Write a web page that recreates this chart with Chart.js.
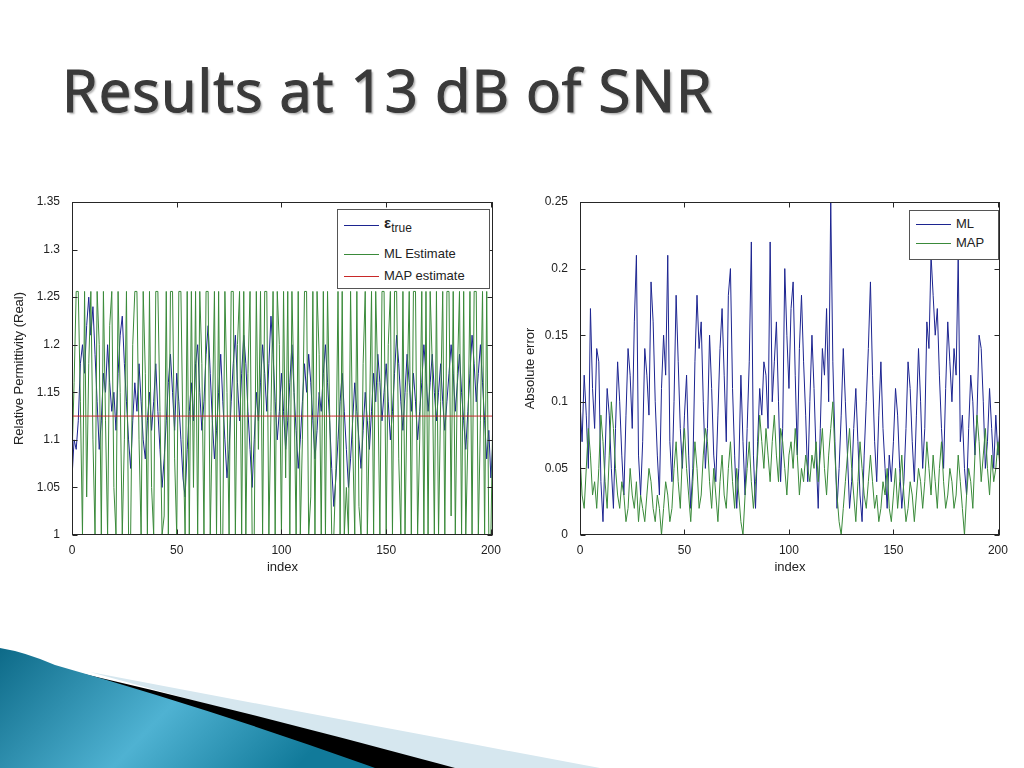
<!DOCTYPE html>
<html>
<head>
<meta charset="utf-8">
<script src="https://cdn.jsdelivr.net/npm/chart.js@4"></script>
<style>
  html, body { margin: 0; padding: 0; background: #fff; }
  body { width: 1024px; height: 768px; position: relative; overflow: hidden; font-family: "Liberation Sans", Arial, sans-serif; }
  #title { position: absolute; left: 62px; top: 50px; font-family: "Open Sans", sans-serif; font-weight: 400; font-size: 58px; color: #3a3a3a;
           -webkit-text-stroke: 1.2px #3a3a3a; text-shadow: 2px 2px 2px #b0b0b0; white-space: nowrap; letter-spacing: 1px; }
  canvas { position: absolute; }
  #leftChart { left: 0; top: 190px; }
  #rightChart { left: 515px; top: 190px; }
  .legend { position: absolute; background: #fff; border: 1px solid #555; font-size: 13px; color: #222; }
  .row { position: absolute; left: 0; right: 0; height: 18px; }
  .row .sample { position: absolute; left: 6px; width: 35px; top: 9px; border-top: 1px solid; }
  .row .txt { position: absolute; left: 46px; top: 1px; white-space: nowrap; }
  #deco { position: absolute; left: 0; top: 630px; }
</style>
</head>
<body>
<div id="title">Results at 13 dB of SNR</div>

<canvas id="leftChart" width="505" height="385"></canvas>
<canvas id="rightChart" width="509" height="385"></canvas>

<div class="legend" style="left:337px; top:209px; width:151px; height:78px;">
  <div class="row" style="top:6px;"><span class="sample" style="border-color:#1c2490"></span>
    <span class="txt" style="top:-2px;"><b style="font-size:15px;">&epsilon;</b><sub style="font-size:12px;">true</sub></span></div>
  <div class="row" style="top:35px;"><span class="sample" style="border-color:#3a8a3a"></span><span class="txt">ML Estimate</span></div>
  <div class="row" style="top:57px;"><span class="sample" style="border-color:#c82828"></span><span class="txt">MAP estimate</span></div>
</div>

<div class="legend" style="left:909px; top:210px; width:88px; height:48px;">
  <div class="row" style="top:4px;"><span class="sample" style="border-color:#1c2490"></span><span class="txt">ML</span></div>
  <div class="row" style="top:23px;"><span class="sample" style="border-color:#3a8a3a"></span><span class="txt">MAP</span></div>
</div>

<svg id="deco" width="1024" height="138" viewBox="0 630 1024 138">
  <defs>
    <linearGradient id="teal" x1="0" y1="0" x2="1" y2="0.3">
      <stop offset="0" stop-color="#0d6a88"/>
      <stop offset="0.55" stop-color="#4fb2d2"/>
      <stop offset="1" stop-color="#117a9a"/>
    </linearGradient>
  </defs>
  <path d="M90,672 Q300,712 600,768 L440,768 Z" fill="#d6e7ef"/>
  <path d="M50,666 Q250,712 455,768 L370,768 Z" fill="#000"/>
  <path d="M0,648 Q25,652 55,665 Q220,712 375,768 L0,768 Z" fill="url(#teal)"/>
</svg>

<script>
// left panel: relative permittivity vs index
const epsTrue = [
  1.06,1.10,1.09,1.12,1.18,1.20,1.17,1.22,1.25,1.21,
  1.24,1.19,1.14,1.09,1.12,1.17,1.15,1.20,1.16,1.13,
  1.15,1.11,1.17,1.21,1.23,1.18,1.14,1.10,1.07,1.12,
  1.16,1.13,1.18,1.14,1.10,1.08,1.12,1.15,1.11,1.14,
  1.18,1.13,1.09,1.05,1.08,1.12,1.16,1.19,1.15,1.11,
  1.17,1.14,1.10,1.06,1.04,1.09,1.13,1.16,1.12,1.18,
  1.20,1.15,1.11,1.14,1.19,1.22,1.17,1.12,1.08,1.11,
  1.15,1.19,1.14,1.10,1.06,1.09,1.14,1.18,1.21,1.16,
  1.12,1.17,1.21,1.18,1.13,1.09,1.05,1.10,1.15,1.12,
  1.16,1.20,1.17,1.13,1.18,1.23,1.19,1.14,1.10,1.13,
  1.17,1.13,1.09,1.12,1.16,1.20,1.15,1.11,1.07,1.10,
  1.14,1.18,1.15,1.19,1.16,1.12,1.08,1.11,1.15,1.13,
  1.17,1.20,1.16,1.12,1.07,1.03,1.06,1.10,1.14,1.17,
  1.13,1.09,1.05,1.08,1.12,1.16,1.13,1.10,1.07,1.11,
  1.15,1.12,1.09,1.13,1.17,1.14,1.19,1.16,1.12,1.15,
  1.18,1.14,1.10,1.13,1.17,1.21,1.18,1.14,1.11,1.15,
  1.19,1.16,1.13,1.17,1.14,1.10,1.13,1.16,1.20,1.17,
  1.13,1.16,1.19,1.15,1.12,1.15,1.18,1.14,1.11,1.14,
  1.17,1.20,1.17,1.13,1.16,1.19,1.15,1.12,1.09,1.13,
  1.17,1.21,1.18,1.14,1.17,1.20,1.16,1.12,1.08,1.11,
  1.06,1.10
];

const mlEstimate = [
  1.08,1.16,1.256,1.256,1.14,1.0,1.256,1.04,1.18,1.256,
  1.1,1.0,1.256,1.2,1.0,1.256,1.12,1.0,1.22,1.256,
  1.05,1.0,1.256,1.15,1.0,1.1,1.256,1.0,1.0,1.2,
  1.256,1.256,1.1,1.0,1.256,1.17,1.0,1.256,1.05,1.0,
  1.256,1.256,1.13,1.0,1.02,1.256,1.0,1.256,1.256,1.08,
  1.0,1.256,1.256,1.1,1.0,1.256,1.0,1.256,1.05,1.256,
  1.0,1.256,1.18,1.0,1.256,1.256,1.0,1.12,1.256,1.0,
  1.256,1.0,1.0,1.256,1.15,1.0,1.256,1.256,1.0,1.2,
  1.256,1.0,1.256,1.0,1.17,1.256,1.0,1.0,1.256,1.09,
  1.256,1.0,1.256,1.256,1.0,1.13,1.256,1.0,1.256,1.2,
  1.0,1.256,1.06,1.256,1.0,1.256,1.15,1.0,1.256,1.0,
  1.1,1.256,1.256,1.0,1.04,1.256,1.0,1.256,1.19,1.0,
  1.256,1.0,1.256,1.13,1.0,1.0,1.07,1.256,1.0,1.256,
  1.0,1.05,1.0,1.256,1.1,1.0,1.256,1.03,1.0,1.18,
  1.256,1.0,1.12,1.256,1.0,1.256,1.16,1.0,1.256,1.256,
  1.0,1.2,1.256,1.0,1.256,1.256,1.08,1.0,1.256,1.0,
  1.15,1.256,1.0,1.256,1.256,1.0,1.1,1.256,1.0,1.256,
  1.0,1.256,1.18,1.0,1.256,1.0,1.14,1.256,1.0,1.256,
  1.256,1.02,1.256,1.0,1.17,1.256,1.0,1.256,1.0,1.1,
  1.256,1.0,1.256,1.256,1.0,1.12,1.256,1.0,1.256,1.0,
  1.0,1.14
];

const mapEstimateLevel = 1.125;

// right panel: absolute error vs index
const mlError = [
  0.10,0.07,0.12,0.09,0.05,0.17,0.11,0.08,0.14,0.13,
  0.04,0.01,0.06,0.11,0.09,0.05,0.02,0.08,0.13,0.10,
  0.06,0.03,0.09,0.14,0.12,0.08,0.16,0.21,0.06,0.03,
  0.07,0.14,0.12,0.09,0.19,0.16,0.10,0.06,0.03,0.11,
  0.15,0.12,0.21,0.07,0.04,0.10,0.18,0.13,0.08,0.05,
  0.09,0.12,0.06,0.02,0.05,0.13,0.18,0.14,0.16,0.10,
  0.05,0.08,0.15,0.11,0.06,0.04,0.09,0.14,0.17,0.12,
  0.07,0.18,0.20,0.11,0.06,0.02,0.05,0.12,0.07,0.03,
  0.08,0.13,0.22,0.06,0.02,0.07,0.11,0.09,0.13,0.12,
  0.08,0.22,0.10,0.13,0.16,0.10,0.04,0.08,0.20,0.15,
  0.11,0.17,0.19,0.12,0.06,0.14,0.18,0.13,0.09,0.04,
  0.10,0.15,0.11,0.06,0.02,0.08,0.14,0.12,0.17,0.10,
  0.25,0.13,0.07,0.02,0.05,0.09,0.14,0.10,0.06,0.02,
  0.04,0.08,0.11,0.07,0.03,0.01,0.06,0.10,0.14,0.19,
  0.12,0.07,0.04,0.09,0.13,0.08,0.05,0.02,0.06,0.04,
  0.07,0.11,0.09,0.05,0.02,0.04,0.08,0.13,0.11,0.07,
  0.04,0.09,0.14,0.10,0.05,0.08,0.16,0.14,0.21,0.18,
  0.15,0.17,0.12,0.08,0.05,0.11,0.16,0.13,0.10,0.14,
  0.12,0.21,0.07,0.09,0.05,0.03,0.08,0.12,0.10,0.06,
  0.09,0.15,0.14,0.10,0.05,0.07,0.11,0.08,0.05,0.09,
  0.06,0.08
];

const mapError = [
  0.06,0.03,0.02,0.05,0.08,0.06,0.03,0.04,0.02,0.05,
  0.09,0.07,0.04,0.02,0.06,0.10,0.08,0.05,0.03,0.02,
  0.04,0.03,0.01,0.02,0.05,0.03,0.02,0.04,0.01,0.03,
  0.02,0.01,0.03,0.05,0.04,0.02,0.01,0.03,0.02,0.00,
  0.02,0.04,0.03,0.01,0.02,0.05,0.07,0.04,0.02,0.06,
  0.08,0.05,0.03,0.01,0.04,0.07,0.05,0.02,0.03,0.06,
  0.08,0.07,0.04,0.02,0.05,0.03,0.01,0.04,0.06,0.03,
  0.02,0.05,0.07,0.04,0.02,0.05,0.03,0.01,0.00,0.03,
  0.05,0.07,0.04,0.02,0.04,0.06,0.09,0.07,0.05,0.08,
  0.06,0.04,0.07,0.09,0.06,0.04,0.08,0.07,0.05,0.03,
  0.06,0.07,0.05,0.08,0.06,0.03,0.05,0.04,0.06,0.05,
  0.04,0.06,0.05,0.07,0.04,0.06,0.08,0.05,0.03,0.06,
  0.08,0.10,0.06,0.03,0.01,0.00,0.02,0.04,0.06,0.08,
  0.05,0.03,0.01,0.04,0.07,0.05,0.03,0.02,0.04,0.06,
  0.04,0.02,0.03,0.01,0.02,0.04,0.03,0.05,0.02,0.01,
  0.03,0.05,0.02,0.04,0.06,0.03,0.01,0.02,0.04,0.03,
  0.01,0.03,0.05,0.04,0.02,0.04,0.07,0.05,0.03,0.06,
  0.04,0.02,0.05,0.07,0.04,0.02,0.03,0.05,0.04,0.02,
  0.03,0.06,0.04,0.02,0.00,0.03,0.05,0.04,0.02,0.06,
  0.09,0.07,0.04,0.06,0.08,0.05,0.03,0.06,0.04,0.05,
  0.07,0.05
];

const xTicks = [0, 50, 100, 150, 200];
const yTicksLeft = [1, 1.05, 1.1, 1.15, 1.2, 1.25, 1.3, 1.35];
const yTicksRight = [0, 0.05, 0.1, 0.15, 0.2, 0.25];

const BLUE = "#1c2490";
const GREEN = "#3a8a3a";
const RED = "#c82828";
const tickFont = { family: "'Liberation Sans', Arial, sans-serif", size: 12 };

const toPoints = arr => arr.map((v, i) => ({ x: i, y: v }));

// matlab style box with ticks pointing inwards on all four sides
const matlabBox = {
    id: "matlabBox",
    afterDatasetsDraw(chart) {
        const { ctx, chartArea: a, scales: { x, y } } = chart;
        const L = Math.round(a.left) + 0.5, R = Math.round(a.right) - 0.5;
        const T = Math.round(a.top) + 0.5, B = Math.round(a.bottom) - 0.5;
        ctx.save();
        ctx.strokeStyle = "#262626";
        ctx.lineWidth = 1;
        ctx.beginPath();
        x.ticks.forEach(t => {
            const px = Math.round(x.getPixelForValue(t.value)) + 0.5;
            ctx.moveTo(px, B); ctx.lineTo(px, B - 5);
            ctx.moveTo(px, T); ctx.lineTo(px, T + 5);
        });
        y.ticks.forEach(t => {
            const py = Math.round(y.getPixelForValue(t.value)) + 0.5;
            ctx.moveTo(L, py); ctx.lineTo(L + 5, py);
            ctx.moveTo(R, py); ctx.lineTo(R - 5, py);
        });
        ctx.stroke();
        ctx.strokeRect(L, T, R - L, B - T);
        ctx.restore();
    }
};

function makeScales(yMin, yMax, yTickList, yTitle, yWidth) {
    return {
        x: {
            type: "linear", min: 0, max: 201,
            afterBuildTicks: s => { s.ticks = xTicks.map(v => ({ value: v })); },
            afterFit: s => { s.height = 40; },
            grid: { display: false }, border: { display: false },
            ticks: { font: tickFont, color: "#222", padding: 0, maxRotation: 0, callback: v => String(v) },
            title: { display: true, text: "index", font: { family: tickFont.family, size: 13 }, color: "#222", padding: 0 }
        },
        y: {
            min: yMin, max: yMax,
            afterBuildTicks: s => { s.ticks = yTickList.map(v => ({ value: v })); },
            afterFit: s => { s.width = yWidth; },
            grid: { display: false }, border: { display: false },
            ticks: { font: tickFont, color: "#222", padding: 4, callback: v => String(v) },
            title: { display: true, text: yTitle, font: { family: tickFont.family, size: 13 }, color: "#222", padding: 0 }
        }
    };
}

const baseLine = { borderWidth: 1, pointRadius: 0, tension: 0, fill: false };

new Chart(document.getElementById("leftChart"), {
    type: "line",
    data: {
        datasets: [
            { ...baseLine, label: "true", data: toPoints(epsTrue), borderColor: BLUE, order: 2 },
            { ...baseLine, label: "ML Estimate", data: toPoints(mlEstimate), borderColor: GREEN, order: 1 },
            { ...baseLine, label: "MAP estimate", data: toPoints(epsTrue.map(() => mapEstimateLevel)), borderColor: RED, order: 0 }
        ]
    },
    options: {
        responsive: false, animation: false, devicePixelRatio: 1,
        layout: { padding: { top: 12, right: 12, left: 12, bottom: 0 } },
        plugins: { legend: { display: false }, tooltip: { enabled: false } },
        scales: makeScales(1, 1.35, yTicksLeft, "Relative Permittivity (Real)", 60)
    },
    plugins: [matlabBox]
});

new Chart(document.getElementById("rightChart"), {
    type: "line",
    data: {
        datasets: [
            { ...baseLine, label: "ML", data: toPoints(mlError), borderColor: BLUE, order: 1 },
            { ...baseLine, label: "MAP", data: toPoints(mapError), borderColor: GREEN, order: 0 }
        ]
    },
    options: {
        responsive: false, animation: false, devicePixelRatio: 1,
        layout: { padding: { top: 12, right: 24, left: 8, bottom: 0 } },
        plugins: { legend: { display: false }, tooltip: { enabled: false } },
        scales: makeScales(0, 0.25, yTicksRight, "Absolute error", 57)
    },
    plugins: [matlabBox]
});
</script>
</body>
</html>
